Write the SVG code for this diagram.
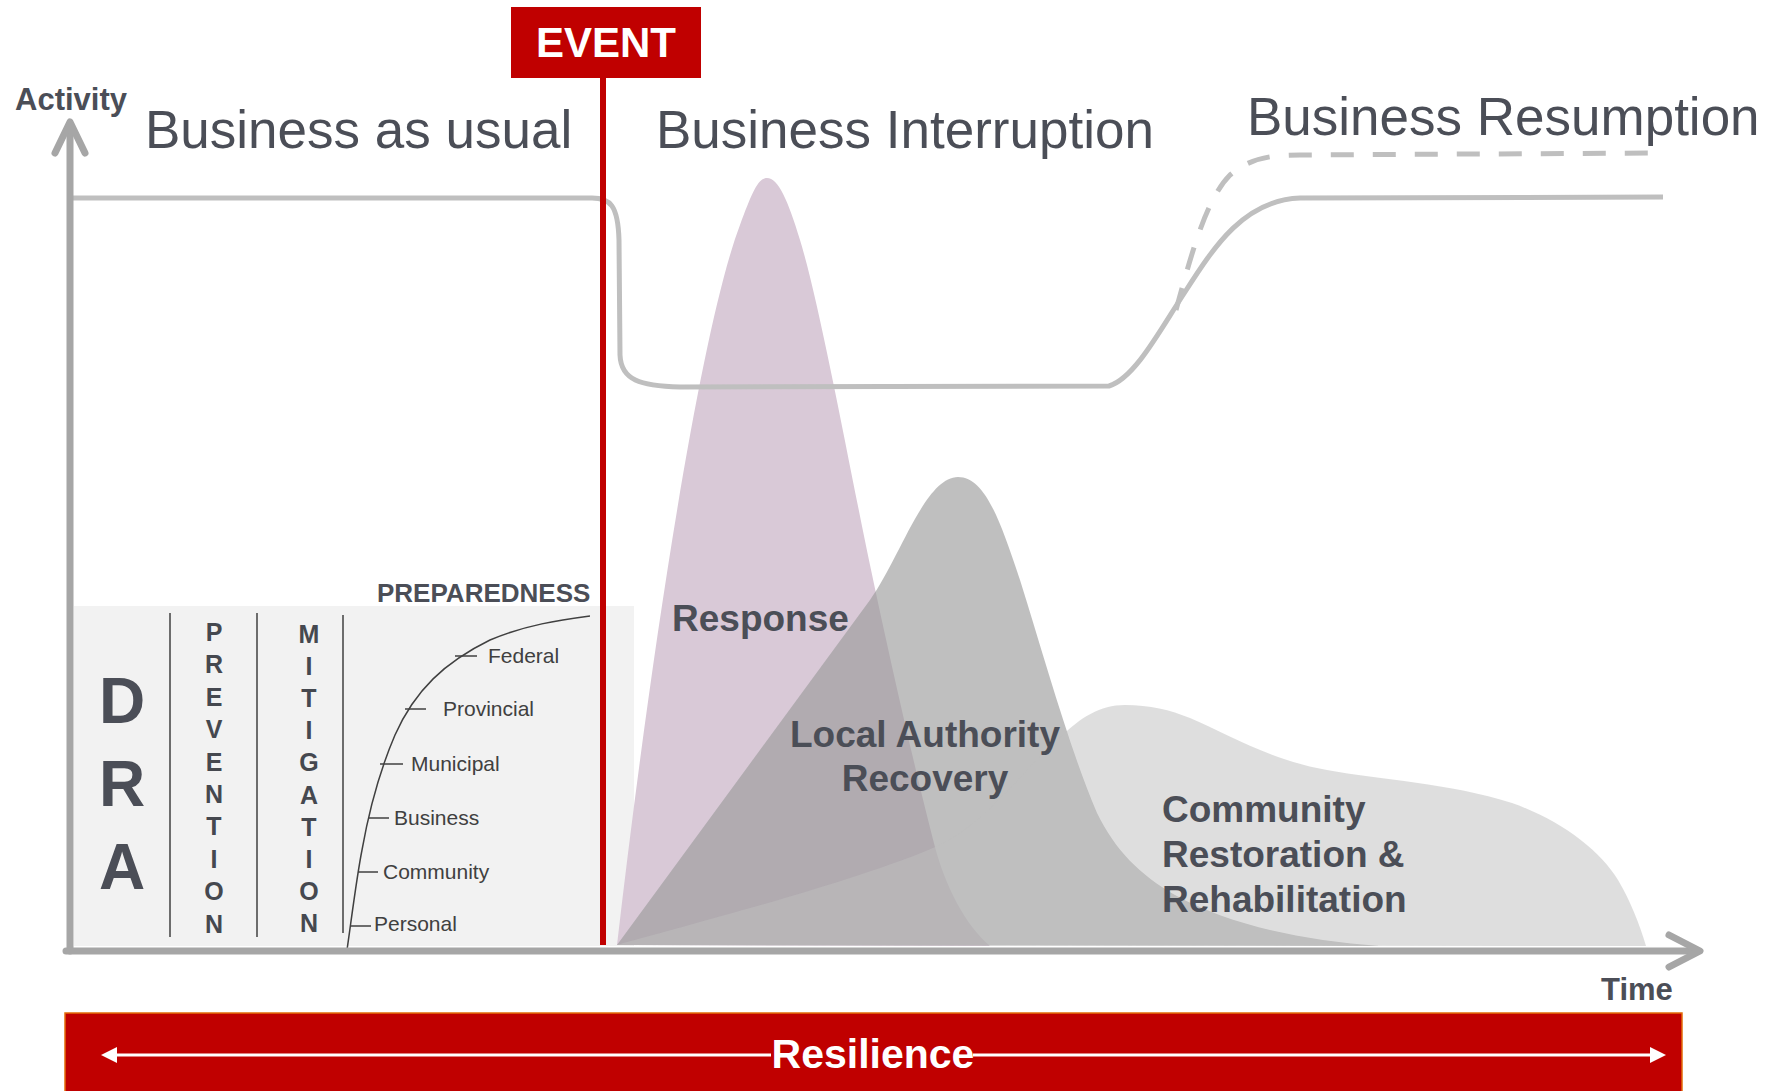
<svg xmlns="http://www.w3.org/2000/svg" width="1774" height="1091" viewBox="0 0 1774 1091">
<style>
.h{font-family:"Liberation Sans",Arial,sans-serif;fill:#4b4e57}
.b{font-weight:bold}
.lbl{font-family:"Liberation Sans",Arial,sans-serif;font-size:21px;fill:#404040}
.vl{font-family:"Liberation Sans",Arial,sans-serif;font-size:25px;font-weight:bold;fill:#45484f;text-anchor:middle}
.thin{stroke:#404040;stroke-width:1.5;fill:none}
.axis{stroke:#a6a6a6;stroke-width:7;fill:none;stroke-linecap:round;stroke-linejoin:round}
.curve{stroke:#bfbfbf;stroke-width:5;fill:none}
</style>
<rect width="1774" height="1091" fill="#ffffff"/>

<g id="dra-panel">
<rect x="74" y="606" width="560" height="340" fill="#f2f2f2"/>
<line class="thin" x1="170" y1="613" x2="170" y2="937"/>
<line class="thin" x1="257" y1="613" x2="257" y2="937"/>
<line class="thin" x1="343" y1="615" x2="343" y2="933"/>
<text class="h b" x="122" y="723" font-size="64" text-anchor="middle" fill="#45484f">D</text>
<text class="h b" x="122" y="806" font-size="64" text-anchor="middle" fill="#45484f">R</text>
<text class="h b" x="122" y="889" font-size="64" text-anchor="middle" fill="#45484f">A</text>
<g id="prevention">
<text class="vl" x="214" y="641">P</text>
<text class="vl" x="214" y="673">R</text>
<text class="vl" x="214" y="706">E</text>
<text class="vl" x="214" y="738">V</text>
<text class="vl" x="214" y="771">E</text>
<text class="vl" x="214" y="803">N</text>
<text class="vl" x="214" y="835">T</text>
<text class="vl" x="214" y="868">I</text>
<text class="vl" x="214" y="900">O</text>
<text class="vl" x="214" y="933">N</text>
</g>
<g id="mitigation">
<text class="vl" x="309" y="643">M</text>
<text class="vl" x="309" y="675">I</text>
<text class="vl" x="309" y="707">T</text>
<text class="vl" x="309" y="739">I</text>
<text class="vl" x="309" y="771">G</text>
<text class="vl" x="309" y="804">A</text>
<text class="vl" x="309" y="836">T</text>
<text class="vl" x="309" y="868">I</text>
<text class="vl" x="309" y="900">O</text>
<text class="vl" x="309" y="932">N</text>
</g>
<g id="preparedness">
<text class="h b" x="377" y="602" font-size="26" fill="#45484f">PREPAREDNESS</text>
<path class="thin" d="M347,950 C352,915 357,875 362,850 C370,805 380,770 395,735 C415,690 445,662 490,640 C525,625 560,620 590,616"/>
<line class="thin" x1="351" y1="926" x2="371" y2="926"/>
<line class="thin" x1="358" y1="872" x2="378" y2="872"/>
<line class="thin" x1="368" y1="818" x2="389" y2="818"/>
<line class="thin" x1="380" y1="764" x2="403" y2="764"/>
<line class="thin" x1="405" y1="709" x2="426" y2="709"/>
<line class="thin" x1="455" y1="656" x2="477" y2="656"/>
<text class="lbl" x="374" y="931">Personal</text>
<text class="lbl" x="383" y="879">Community</text>
<text class="lbl" x="394" y="825">Business</text>
<text class="lbl" x="411" y="771">Municipal</text>
<text class="lbl" x="443" y="716">Provincial</text>
<text class="lbl" x="488" y="663">Federal</text>
</g>
</g>

<g id="response-area">
<path d="M617,945 C650,660 700,330 740,225 C752,193 758,178 767,178 C778,178 788,200 800,240 C820,305 850,470 870,565 C890,660 915,770 935,847 C945,885 965,925 990,946 Z" fill="#d9c9d7"/>
</g>
<g id="recovery-area">
<path d="M617,945 L870,600 C900,558 925,477 958,477 C985,477 1000,520 1020,580 C1045,660 1070,750 1097,813 C1115,850 1140,875 1175,895 C1230,925 1300,940 1380,946 Z" fill="#9a9a9a" fill-opacity="0.63"/>
</g>
<g id="community-area">
<path d="M617,945 C700,922 860,880 935,847 C990,823 1030,760 1063,735 C1080,718 1100,705 1125,705 C1150,705 1170,710 1190,718 C1230,735 1270,760 1327,770 C1380,780 1450,783 1512,803 C1560,820 1600,850 1618,880 C1630,900 1640,925 1646,946 Z" fill="#bebebe" fill-opacity="0.51"/>
</g>

<g id="connectors">
<path class="curve" d="M73,198 L592,198 C610,198 618,205 619,240 L620,355 C621,380 640,386 680,387 L1109,386 C1135,378 1160,330 1185,292 C1215,245 1245,200 1300,198 L1663,197"/>
<path class="curve" stroke-width="6" stroke-dasharray="23 19" d="M1176,310 C1190,260 1205,200 1230,175 C1250,158 1270,155 1300,155 L1655,153"/>
<polyline class="axis" points="70,951 70,124"/>
<polyline class="axis" points="55,153 70,122 85,153"/>
<polyline class="axis" points="66,951 1698,951"/>
<polyline class="axis" points="1669,935 1700,951 1669,967"/>
<line x1="603" y1="78" x2="603" y2="945" stroke="#c00000" stroke-width="6"/>
</g>

<g id="event">
<rect x="511" y="7" width="190" height="71" fill="#c00000"/>
<text x="606" y="57" font-family="Liberation Sans,Arial,sans-serif" font-size="42" font-weight="bold" fill="#ffffff" text-anchor="middle">EVENT</text>
</g>

<g id="labels">
<text class="h b" x="15" y="110" font-size="31">Activity</text>
<text class="h" x="145" y="148" font-size="53">Business as usual</text>
<text class="h" x="656" y="148" font-size="53">Business Interruption</text>
<text class="h" x="1247" y="135" font-size="53">Business Resumption</text>
<text class="h b" x="672" y="631" font-size="37">Response</text>
<text class="h b" x="925" y="747" font-size="37" text-anchor="middle">Local Authority</text>
<text class="h b" x="925" y="791" font-size="37" text-anchor="middle">Recovery</text>
<text class="h b" x="1162" y="822" font-size="37">Community</text>
<text class="h b" x="1162" y="867" font-size="37">Restoration &amp;</text>
<text class="h b" x="1162" y="912" font-size="37">Rehabilitation</text>
<text class="h b" x="1601" y="1000" font-size="31">Time</text>
</g>

<g id="resilience">
<rect x="65" y="1013" width="1617" height="90" fill="#c00000" stroke="#e36c09" stroke-width="1.5"/>
<line x1="115" y1="1055" x2="771" y2="1055" stroke="#ffffff" stroke-width="3"/>
<line x1="973" y1="1055" x2="1652" y2="1055" stroke="#ffffff" stroke-width="3"/>
<polygon points="101,1055 117,1047 117,1063" fill="#ffffff"/>
<polygon points="1666,1055 1650,1047 1650,1063" fill="#ffffff"/>
<text x="873" y="1068" font-family="Liberation Sans,Arial,sans-serif" font-size="41" font-weight="bold" fill="#ffffff" text-anchor="middle">Resilience</text>
</g>
</svg>
